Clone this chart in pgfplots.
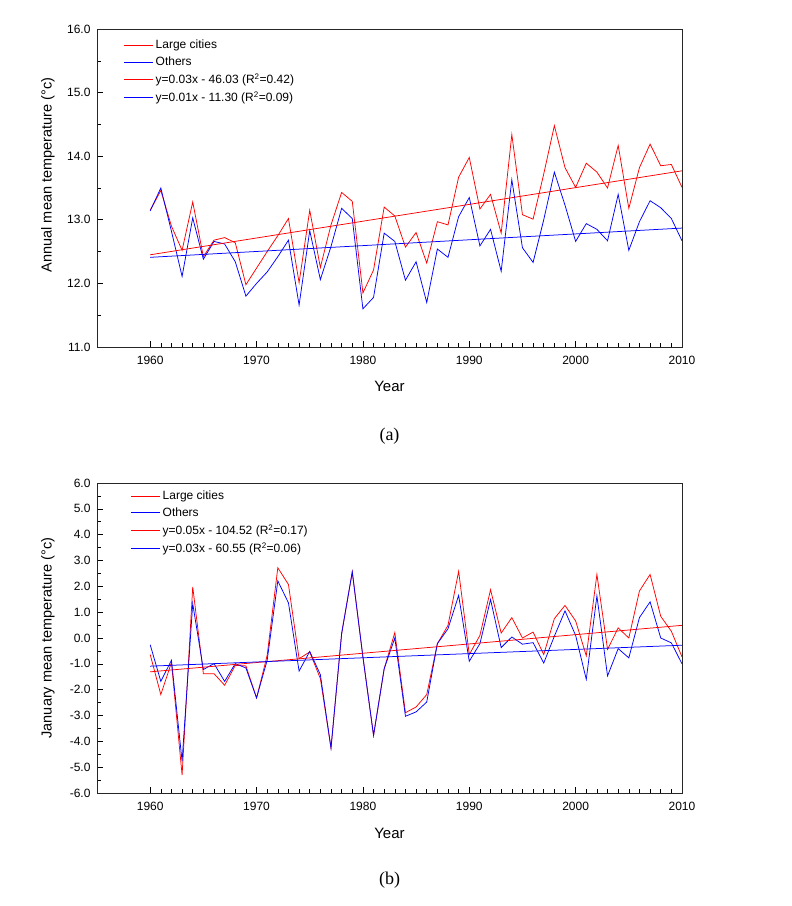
\documentclass[border=0pt]{standalone}
\usepackage{pgfplots}
\pgfplotsset{compat=1.18}
\usepackage{pgfplotstable}
\usepackage{fontspec}
\setmainfont{Liberation Sans}
\newfontfamily\seriffont{Liberation Serif}

\pgfplotstableread{
year large others
1960 13.15 13.14
1961 13.46 13.50
1962 12.90 12.82
1963 12.52 12.11
1964 13.28 13.03
1965 12.42 12.38
1966 12.68 12.66
1967 12.72 12.62
1968 12.64 12.34
1969 11.98 11.80
1970 12.24 12.00
1971 12.50 12.18
1972 12.75 12.42
1973 13.02 12.68
1974 12.01 11.66
1975 13.15 12.83
1976 12.25 12.06
1977 12.92 12.58
1978 13.43 13.18
1979 13.29 13.02
1980 11.85 11.60
1981 12.21 11.78
1982 13.20 12.79
1983 13.06 12.66
1984 12.57 12.05
1985 12.80 12.34
1986 12.32 11.70
1987 12.97 12.54
1988 12.92 12.41
1989 13.67 13.05
1990 13.98 13.35
1991 13.17 12.59
1992 13.40 12.85
1993 12.79 12.19
1994 14.34 13.63
1995 13.08 12.56
1996 13.01 12.33
1997 13.72 13.00
1998 14.48 13.75
1999 13.82 13.23
2000 13.51 12.66
2001 13.89 12.94
2002 13.75 12.85
2003 13.50 12.67
2004 14.17 13.40
2005 13.18 12.52
2006 13.82 12.97
2007 14.19 13.30
2008 13.85 13.19
2009 13.87 13.02
2010 13.51 12.67
}\annual

\pgfplotstableread{
year large others
1960 -0.64 -0.26
1961 -2.19 -1.68
1962 -0.95 -0.86
1963 -5.31 -4.77
1964 1.98 1.33
1965 -1.38 -1.22
1966 -1.38 -0.99
1967 -1.83 -1.68
1968 -1.06 -0.99
1969 -1.08 -1.16
1970 -2.32 -2.32
1971 -0.67 -0.86
1972 2.72 2.21
1973 2.07 1.36
1974 -0.80 -1.28
1975 -0.54 -0.52
1976 -1.57 -1.42
1977 -4.26 -4.26
1978 0.17 0.17
1979 2.56 2.56
1980 -0.73 -0.73
1981 -3.77 -3.77
1982 -1.19 -1.19
1983 0.21 0.00
1984 -2.89 -3.03
1985 -2.67 -2.86
1986 -2.19 -2.48
1987 -0.22 -0.22
1988 0.49 0.36
1989 2.58 1.65
1990 -0.64 -0.90
1991 0.10 -0.22
1992 1.87 1.49
1993 0.19 -0.37
1994 0.79 0.04
1995 0.00 -0.24
1996 0.23 -0.18
1997 -0.64 -0.97
1998 0.75 0.07
1999 1.26 1.05
2000 0.66 0.10
2001 -0.69 -1.60
2002 2.46 1.63
2003 -0.44 -1.47
2004 0.39 -0.41
2005 0.00 -0.77
2006 1.82 0.79
2007 2.46 1.40
2008 0.84 0.00
2009 0.26 -0.19
2010 -0.73 -1.00
}\january

\pgfplotsset{
  panel/.style={
    scale only axis,
    width=585pt,
    xmin=1955, xmax=2010,
    xtick={1960,1970,1980,1990,2000,2010},
    xticklabels={1960,1970,1980,1990,2000,2010},
    minor x tick num=9,
    minor y tick num=1,
    tick align=inside,
    xtick pos=left, ytick pos=left,
    major tick length=6pt,
    minor tick length=3.5pt,
    axis line style={black!85, line width=0.8pt},
    every tick/.style={black, line width=0.6pt},
    xticklabel style={font=\fontsize{12}{14}\selectfont, yshift=-6pt},
    yticklabel style={font=\fontsize{12}{14}\selectfont, xshift=-3pt},
    xlabel={Year},
    xlabel style={font=\fontsize{15}{17}\selectfont, anchor=center},
    ylabel style={font=\fontsize{14.5}{17}\selectfont, anchor=center},
    legend cell align=left,
    legend image code/.code={\draw[#1, line width=0.75pt] (0pt,0pt) -- (29pt,0pt);},
    legend style={draw=none, fill=none, font=\fontsize{12}{14}\selectfont,
      anchor=north west, row sep=2.6pt, inner sep=1pt},
    every axis plot/.append style={line width=0.75pt},
  }
}

\begin{document}
\begin{tikzpicture}
\path[use as bounding box, fill=white] (0pt,0pt) rectangle (792pt,906pt);

\begin{axis}[panel,
  at={(97pt,559pt)}, anchor=south west,
  height=318pt,
  ymin=11, ymax=16,
  ytick={11,12,13,14,15,16},
  yticklabels={11.0,12.0,13.0,14.0,15.0,16.0},
  ylabel={Annual mean temperature (°c)},
  ylabel style={at={(axis description cs:-0.0838,0.541)}},
  xlabel style={at={(axis description cs:0.5,-0.123)}},
  legend style={at={(axis description cs:0.044,0.975)}},
]
\addplot[red] table[x=year, y=large] {\annual};
\addlegendentry{Large cities}
\addplot[blue] table[x=year, y=others] {\annual};
\addlegendentry{Others}
\addplot[red] coordinates {(1960,12.45) (2010,13.77)};
\addlegendentry{y=0.03x - 46.03 (R\textsuperscript{2}=0.42)}
\addplot[blue] coordinates {(1960,12.41) (2010,12.87)};
\addlegendentry{y=0.01x - 11.30 (R\textsuperscript{2}=0.09)}
\end{axis}

\begin{axis}[panel,
  at={(97pt,113pt)}, anchor=south west,
  height=310pt,
  ymin=-6, ymax=6,
  ytick={-6,-5,-4,-3,-2,-1,0,1,2,3,4,5,6},
  yticklabels={-6.0,-5.0,-4.0,-3.0,-2.0,-1.0,0.0,1.0,2.0,3.0,4.0,5.0,6.0},
  ylabel={January mean temperature (°c)},
  ylabel style={at={(axis description cs:-0.0838,0.5)}},
  xlabel style={at={(axis description cs:0.5,-0.129)}},
  legend style={at={(axis description cs:0.056,0.985)}},
]
\addplot[red] table[x=year, y=large] {\january};
\addlegendentry{Large cities}
\addplot[blue] table[x=year, y=others] {\january};
\addlegendentry{Others}
\addplot[red] coordinates {(1960,-1.31) (2010,0.49)};
\addlegendentry{y=0.05x - 104.52 (R\textsuperscript{2}=0.17)}
\addplot[blue] coordinates {(1960,-1.09) (2010,-0.28)};
\addlegendentry{y=0.03x - 60.55 (R\textsuperscript{2}=0.06)}
\end{axis}

\node[font=\seriffont\fontsize{18}{20}\selectfont] at (389.5pt,470pt) {(a)};
\node[font=\seriffont\fontsize{18}{20}\selectfont] at (389.5pt,26pt) {(b)};
\end{tikzpicture}
\end{document}
